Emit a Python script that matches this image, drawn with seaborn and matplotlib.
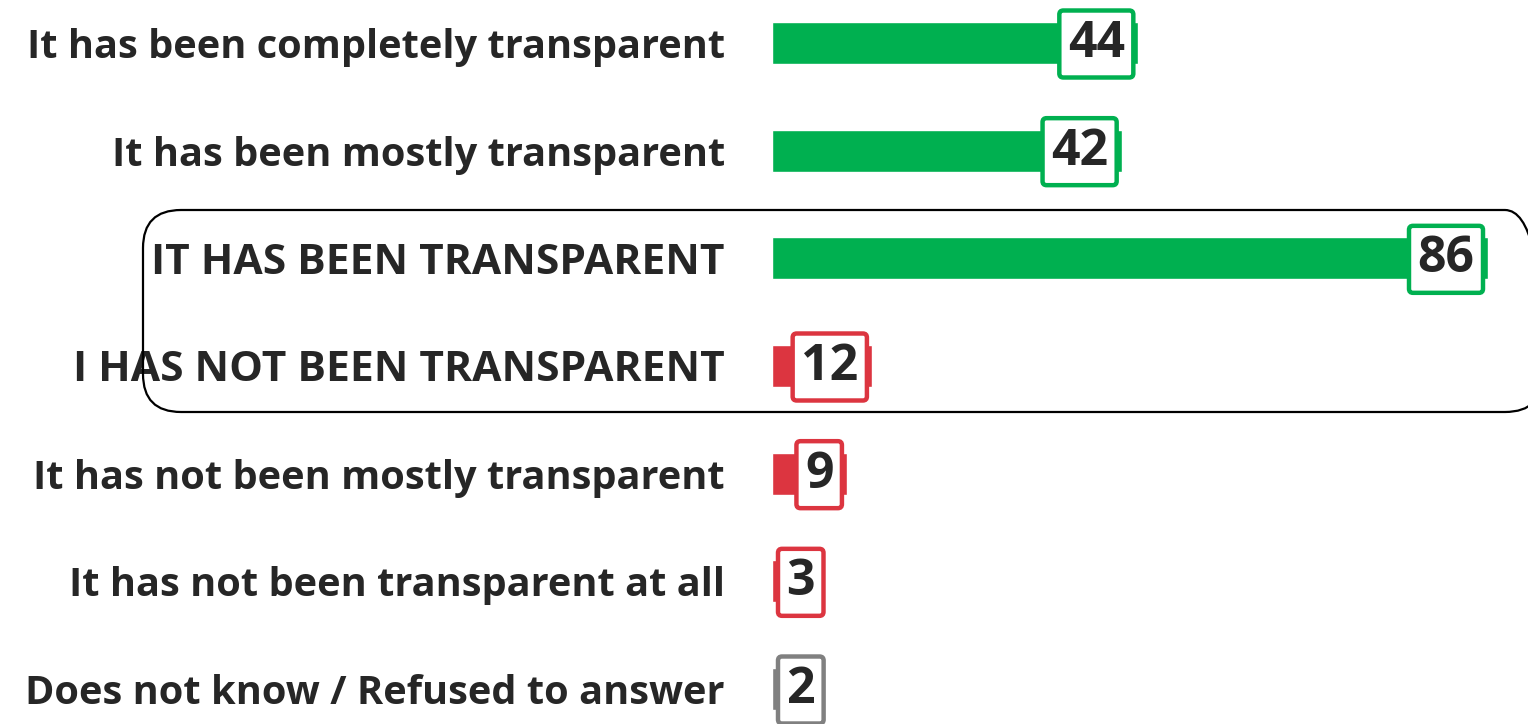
import matplotlib
matplotlib.use("Agg")
import matplotlib.pyplot as plt
import seaborn as sns
import pandas as pd
from matplotlib.patches import FancyBboxPatch

# data
labels = [
    "It has been completely transparent",
    "It has been mostly transparent",
    "IT HAS BEEN TRANSPARENT",
    "I HAS NOT BEEN TRANSPARENT",
    "It has not been mostly transparent",
    "It has not been transparent at all",
    "Does not know / Refused to answer",
]
values = [44, 42, 86, 12, 9, 3, 2]
colors = ["#00B050", "#00B050", "#00B050", "#DC3540", "#DC3540", "#DC3540", "#808080"]

df = pd.DataFrame({"label": labels, "value": values})

sns.set_style("white")
plt.rcParams["font.family"] = ["Open Sans", "DejaVu Sans"]
text_col = "#262626"

W, H = 1528, 724
fig = plt.figure(figsize=(W / 100, H / 100), dpi=100)
x0 = 772
ax = fig.add_axes([x0 / W, 0, 1 - x0 / W, 1])

sns.barplot(data=df, x="value", y="label", hue="label", palette=colors,
            legend=False, width=0.39, saturation=1, ax=ax, orient="h")

ppu = (1488 - x0) / 86  # pixels per unit
ax.set_xlim(0, (W - x0) / ppu)
row = 107.67
ax.set_ylim(6 + 35 / row, -43 / row)

ax.set_xlabel("")
ax.set_ylabel("")
ax.set_xticks([])
ax.tick_params(axis="y", length=0, pad=34)
for t in ax.get_yticklabels():
    t.set_fontsize(30.6 if t.get_text().isupper() else 28.6)
    t.set_fontweight("bold")
    t.set_color(text_col)
sns.despine(ax=ax, left=True, bottom=True)

# value boxes
fs = 36
pad_px = 0.17 * fs * 100 / 72
for i, (v, c) in enumerate(zip(values, colors)):
    box_w = 78 if v >= 10 else 47
    if v * ppu - 3 - box_w >= 6:
        xy, off, ha = (v, i), -(5 + pad_px), "right"
    else:
        xy, off, ha = (0, i), 6 + pad_px, "left"
    ax.annotate(str(v), xy=xy, xytext=(off, 5),
                textcoords="offset pixels", ha=ha, va="center_baseline",
                fontsize=fs, fontweight="bold", color=text_col,
                bbox=dict(boxstyle="round,pad=0.17,rounding_size=0.08",
                          fc="white", ec=c, lw=3.2))

# highlight frame around the net rows
frame = FancyBboxPatch((143, H - 412), 1400, 202,
                       boxstyle="round,pad=0,rounding_size=38",
                       transform=None, fc="none", ec="black", lw=1.6,
                       clip_on=False, zorder=5)
fig.patches.append(frame)

fig.savefig("out.png", dpi=100)
